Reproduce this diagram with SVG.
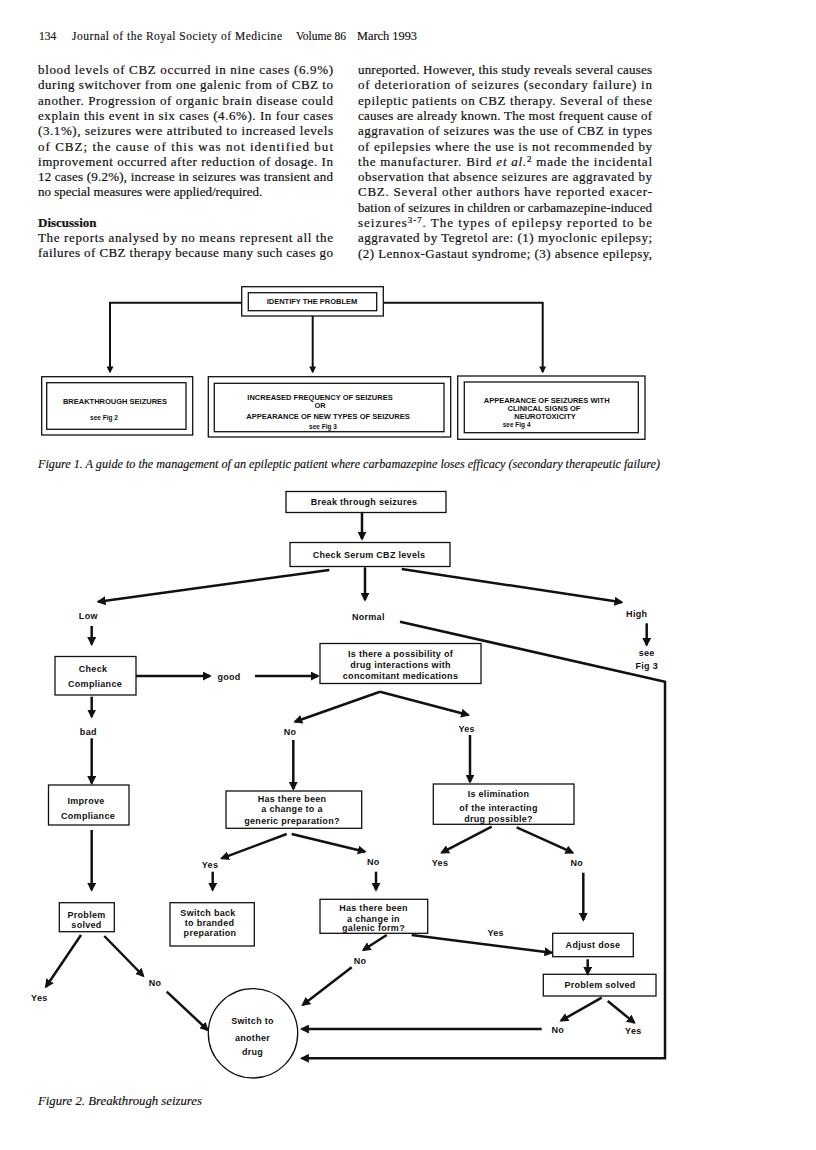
<svg xmlns="http://www.w3.org/2000/svg" width="816" height="1150" viewBox="0 0 816 1150">
<style>
.bt{font-family:"Liberation Serif",serif;font-size:13px;fill:#111;stroke:#111;stroke-width:0.2}
.hd{font-family:"Liberation Serif",serif;font-size:11.5px;fill:#111;stroke:#111;stroke-width:0.15}
.cap{font-family:"Liberation Serif",serif;font-size:11.5px;font-style:italic;fill:#111;stroke:#111;stroke-width:0.15}
.f1{font-family:"Liberation Sans",Arial,sans-serif;font-size:7.5px;font-weight:bold;fill:#111;text-anchor:middle}
.f1s{font-family:"Liberation Sans",Arial,sans-serif;font-size:6.5px;font-weight:bold;fill:#111}
.t{font-family:"Liberation Sans",Arial,sans-serif;font-size:9px;font-weight:bold;fill:#111;text-anchor:middle;letter-spacing:0.3px}
.box{fill:none;stroke:#111;stroke-width:1.3}
.c{fill:none;stroke:#111;stroke-width:2.5;marker-end:url(#ah)}
.c1{fill:none;stroke:#111;stroke-width:2;marker-end:url(#ah1)}
</style>
<defs>
<marker id="ah" viewBox="0 0 10 10" refX="8" refY="5" markerWidth="9" markerHeight="9" orient="auto" markerUnits="userSpaceOnUse"><path d="M0,0 L10,5 L0,10 z" fill="#111"/></marker>
<marker id="ah1" viewBox="0 0 10 10" refX="8" refY="5" markerWidth="7" markerHeight="7" orient="auto" markerUnits="userSpaceOnUse"><path d="M0,0 L10,5 L0,10 z" fill="#111"/></marker>
</defs>
<rect width="816" height="1150" fill="#fff"/>

<g id="header">
<text class="hd" x="39" y="40">134</text>
<text class="hd" x="72" y="40" textLength="210" lengthAdjust="spacing">Journal of the Royal Society of Medicine</text>
<text class="hd" x="296" y="40">Volume 86</text>
<text class="hd" x="357" y="40" textLength="60" lengthAdjust="spacingAndGlyphs">March 1993</text>
</g>

<g id="left-column">
<text class="bt" x="38" y="74" textLength="295" lengthAdjust="spacing">blood levels of CBZ occurred in nine cases (6.9%)</text>
<text class="bt" x="38" y="89.3" textLength="295" lengthAdjust="spacing">during switchover from one galenic from of CBZ to</text>
<text class="bt" x="38" y="104.6" textLength="295" lengthAdjust="spacing">another. Progression of organic brain disease could</text>
<text class="bt" x="38" y="119.9" textLength="295" lengthAdjust="spacing">explain this event in six cases (4.6%). In four cases</text>
<text class="bt" x="38" y="135.2" textLength="295" lengthAdjust="spacing">(3.1%), seizures were attributed to increased levels</text>
<text class="bt" x="38" y="150.5" textLength="295" lengthAdjust="spacing">of CBZ; the cause of this was not identified but</text>
<text class="bt" x="38" y="165.8" textLength="295" lengthAdjust="spacing">improvement occurred after reduction of dosage. In</text>
<text class="bt" x="38" y="181.1" textLength="295" lengthAdjust="spacing">12 cases (9.2%), increase in seizures was transient and</text>
<text class="bt" x="38" y="196.4">no special measures were applied/required.</text>
<text class="bt" x="38" y="226.6" font-weight="bold" font-size="13.5">Discussion</text>
<text class="bt" x="38" y="241.7" textLength="295" lengthAdjust="spacing">The reports analysed by no means represent all the</text>
<text class="bt" x="38" y="257" textLength="295" lengthAdjust="spacing">failures of CBZ therapy because many such cases go</text>
</g>

<g id="right-column">
<text class="bt" x="358" y="74" textLength="294" lengthAdjust="spacing">unreported. However, this study reveals several causes</text>
<text class="bt" x="358" y="89.3" textLength="294" lengthAdjust="spacing">of deterioration of seizures (secondary failure) in</text>
<text class="bt" x="358" y="104.6" textLength="294" lengthAdjust="spacing">epileptic patients on CBZ therapy. Several of these</text>
<text class="bt" x="358" y="119.9" textLength="294" lengthAdjust="spacing">causes are already known. The most frequent cause of</text>
<text class="bt" x="358" y="135.2" textLength="294" lengthAdjust="spacing">aggravation of seizures was the use of CBZ in types</text>
<text class="bt" x="358" y="150.5" textLength="294" lengthAdjust="spacing">of epilepsies where the use is not recommended by</text>
<text class="bt" x="358" y="165.8" textLength="294" lengthAdjust="spacing">the manufacturer. Bird <tspan font-style="italic">et al.</tspan><tspan font-size="9" dy="-4">2</tspan><tspan dy="4"> made the incidental</tspan></text>
<text class="bt" x="358" y="181.1" textLength="294" lengthAdjust="spacing">observation that absence seizures are aggravated by</text>
<text class="bt" x="358" y="196.4" textLength="294" lengthAdjust="spacing">CBZ. Several other authors have reported exacer-</text>
<text class="bt" x="358" y="211.7" textLength="294" lengthAdjust="spacing">bation of seizures in children or carbamazepine-induced</text>
<text class="bt" x="358" y="227" textLength="294" lengthAdjust="spacing">seizures<tspan font-size="9" dy="-4">3-7</tspan><tspan dy="4">. The types of epilepsy reported to be</tspan></text>
<text class="bt" x="358" y="242.3" textLength="294" lengthAdjust="spacing">aggravated by Tegretol are: (1) myoclonic epilepsy;</text>
<text class="bt" x="358" y="257.6" textLength="294" lengthAdjust="spacing">(2) Lennox-Gastaut syndrome; (3) absence epilepsy,</text>
</g>

<g id="figure1">
<g id="f1-connectors">
<path class="c1" d="M241.7,302.7 H110 V372"/>
<path class="c1" d="M312.7,316 V372"/>
<path class="c1" d="M383.3,302.7 H542.7 V372"/>
</g>
<g id="f1-identify">
<rect class="box" x="241.7" y="286.7" width="141.6" height="29.3"/>
<rect class="box" x="248.3" y="292.7" width="128.4" height="18"/>
<text class="f1" x="312" y="303.5">IDENTIFY THE PROBLEM</text>
</g>
<g id="f1-breakthrough">
<rect class="box" x="41.7" y="376.7" width="151" height="58.3"/>
<rect class="box" x="46.7" y="382.7" width="139.3" height="46.6"/>
<text class="f1" x="115" y="403.5">BREAKTHROUGH SEIZURES</text>
<text class="f1s" x="104" y="419.5" text-anchor="middle">see Fig 2</text>
</g>
<g id="f1-increased">
<rect class="box" x="208.3" y="376.7" width="242.4" height="60.3"/>
<rect class="box" x="214.3" y="383.3" width="229.7" height="48.4"/>
<text class="f1" x="320" y="400">INCREASED FREQUENCY OF SEIZURES</text>
<text class="f1" x="320" y="407.7">OR</text>
<text class="f1" x="328" y="418.7">APPEARANCE OF NEW TYPES OF SEIZURES</text>
<text class="f1s" x="323" y="429.4" text-anchor="middle">see Fig 3</text>
</g>
<g id="f1-neurotox">
<rect class="box" x="457.7" y="376" width="187.3" height="63.3"/>
<rect class="box" x="464.3" y="382" width="174" height="50.7"/>
<text class="f1" x="546.7" y="403.4">APPEARANCE OF SEIZURES WITH</text>
<text class="f1" x="544" y="411">CLINICAL SIGNS OF</text>
<text class="f1" x="545" y="418.7">NEUROTOXICITY</text>
<text class="f1s" x="502.7" y="426.7">see Fig 4</text>
</g>
</g>
<text class="cap" x="38" y="468" textLength="622" lengthAdjust="spacingAndGlyphs">Figure 1. A guide to the management of an epileptic patient where carbamazepine loses efficacy (secondary therapeutic failure)</text>

<g id="figure2">
<g id="f2-connectors">
<path class="c" d="M362,513 V539"/>
<path class="c" d="M329.3,570 L98.3,601.7"/>
<path class="c" d="M365,567.3 V600"/>
<path class="c" d="M401.7,569 L621.7,602.3"/>
<path class="c" d="M400,621.7 L665,681.7 V1058.3 H301.7" stroke-width="2"/>
<path class="c" d="M646.7,623.3 V645"/>
<path class="c" d="M91.7,626 V644.3"/>
<path class="c" d="M136,676 H210"/>
<path class="c" d="M255,676 H318"/>
<path class="c" d="M91.7,696.7 V716.7"/>
<path class="c" d="M91.7,738.3 V783.3"/>
<path class="c" d="M380,691.7 L295,721.7"/>
<path class="c" d="M380,691.7 L468.3,715"/>
<path class="c" d="M293.3,740 V789"/>
<path class="c" d="M470,735 V782"/>
<path class="c" d="M91.7,830 V890"/>
<path class="c" d="M286.7,834 L221.7,858.3"/>
<path class="c" d="M291.7,834 L365,851.7"/>
<path class="c" d="M212.7,871.7 V890"/>
<path class="c" d="M376,871.7 V890"/>
<path class="c" d="M491.7,826.7 L441.7,852.7"/>
<path class="c" d="M516.7,827.3 L572.7,852.7"/>
<path class="c" d="M583.3,872.7 V920"/>
<path class="c" d="M411.7,935 L551.7,952.7"/>
<path class="c" d="M386.7,935 L363.3,950"/>
<path class="c" d="M351.7,967.3 L302.7,1005"/>
<path class="c" d="M81,935 L46,986.7"/>
<path class="c" d="M104.3,936 L143.3,976"/>
<path class="c" d="M166.7,991.7 L207.7,1030"/>
<path class="c" d="M587.7,959.3 V974"/>
<path class="c" d="M601.7,997.7 L561,1020.7"/>
<path class="c" d="M607.7,1001 L634.3,1022.7"/>
<path class="c" d="M541.7,1029 H301.7"/>
</g>
<g id="n-break">
<rect class="box" x="286" y="491.5" width="160" height="21"/>
<text class="t" x="364" y="505">Break through seizures</text>
</g>
<g id="n-serum">
<rect class="box" x="290" y="542.5" width="160" height="24"/>
<text class="t" x="369" y="558">Check Serum CBZ levels</text>
</g>
<g id="n-compliance">
<rect class="box" x="55" y="656.5" width="81" height="38.5"/>
<text class="t" x="93" y="671.5">Check</text>
<text class="t" x="95" y="686.5">Compliance</text>
</g>
<g id="n-interactions">
<rect class="box" x="320" y="643.5" width="161" height="40"/>
<text class="t" x="400.5" y="657">Is there a possibility of</text>
<text class="t" x="400.5" y="668">drug interactions with</text>
<text class="t" x="400.5" y="679">concomitant medications</text>
</g>
<g id="n-improve">
<rect class="box" x="48.5" y="785" width="80.5" height="40"/>
<text class="t" x="86" y="804">Improve</text>
<text class="t" x="88" y="819">Compliance</text>
</g>
<g id="n-generic">
<rect class="box" x="226" y="791" width="135.7" height="37.3"/>
<text class="t" x="292" y="801.5">Has there been</text>
<text class="t" x="292" y="812">a change to a</text>
<text class="t" x="292" y="824">generic preparation?</text>
</g>
<g id="n-elimination">
<rect class="box" x="433.3" y="784" width="140.7" height="40.3"/>
<text class="t" x="498.5" y="797">Is elimination</text>
<text class="t" x="498.5" y="810.5">of the interacting</text>
<text class="t" x="498.5" y="821.5">drug possible?</text>
</g>
<g id="n-solved-left">
<rect class="box" x="59.3" y="902.7" width="55" height="29"/>
<text class="t" x="86.5" y="918">Problem</text>
<text class="t" x="86.5" y="928">solved</text>
</g>
<g id="n-switchback">
<rect class="box" x="170" y="902.7" width="84.3" height="43.3"/>
<text class="t" x="208" y="915.5">Switch back</text>
<text class="t" x="209.5" y="925.5">to branded</text>
<text class="t" x="210" y="936">preparation</text>
</g>
<g id="n-galenic">
<rect class="box" x="320" y="899.3" width="107.7" height="34"/>
<text class="t" x="373.5" y="910.5">Has there been</text>
<text class="t" x="373.5" y="921.5">a change in</text>
<text class="t" x="373.5" y="931">galenic form?</text>
</g>
<g id="n-adjust">
<rect class="box" x="552.7" y="933.3" width="80.6" height="23.4"/>
<text class="t" x="593" y="948">Adjust dose</text>
</g>
<g id="n-solved-right">
<rect class="box" x="543.3" y="974.3" width="112.7" height="21.7"/>
<text class="t" x="600" y="988">Problem solved</text>
</g>
<g id="n-switch">
<circle class="box" cx="253" cy="1033.3" r="44.7"/>
<text class="t" x="252.5" y="1024" letter-spacing="0.8">Switch to</text>
<text class="t" x="252.5" y="1040.5" letter-spacing="1.2">another</text>
<text class="t" x="252.5" y="1055" letter-spacing="0.8">drug</text>
</g>
<g id="labels">
<text class="t" x="88.3" y="619">Low</text>
<text class="t" x="368.3" y="620">Normal</text>
<text class="t" x="636.7" y="616.5">High</text>
<text class="t" x="646.7" y="655.5" font-size="10.5">see</text>
<text class="t" x="646.7" y="669" font-size="10.5">Fig 3</text>
<text class="t" x="229" y="680">good</text>
<text class="t" x="88.3" y="735">bad</text>
<text class="t" x="290" y="735">No</text>
<text class="t" x="466.7" y="732">Yes</text>
<text class="t" x="210" y="867.5">Yes</text>
<text class="t" x="373.3" y="865">No</text>
<text class="t" x="440" y="866">Yes</text>
<text class="t" x="576.7" y="866">No</text>
<text class="t" x="39.3" y="1001">Yes</text>
<text class="t" x="155" y="986">No</text>
<text class="t" x="360" y="964">No</text>
<text class="t" x="495.7" y="936">Yes</text>
<text class="t" x="557.7" y="1032.5">No</text>
<text class="t" x="633.3" y="1033.5">Yes</text>
</g>
</g>
<text class="cap" x="38" y="1105" textLength="164" lengthAdjust="spacingAndGlyphs">Figure 2. Breakthrough seizures</text>
</svg>
